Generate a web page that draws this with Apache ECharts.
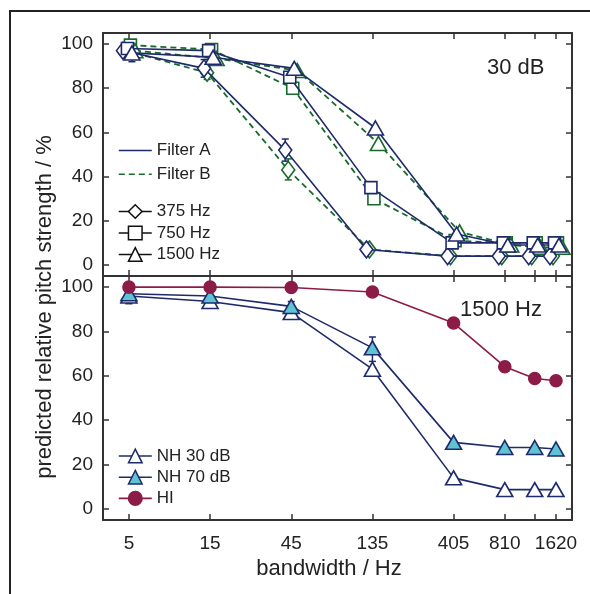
<!DOCTYPE html>
<html>
<head>
<meta charset="utf-8">
<script src="https://cdn.jsdelivr.net/npm/echarts@6/dist/echarts.min.js"></script>
<style>
html, body { margin: 0; padding: 0; background: #fff; }
#chart { width: 590px; height: 594px; }
</style>
</head>
<body>
<div id="chart"></div>
<script>
// bandwidths (Hz) shared by every curve
const bandwidths = [5, 15, 45, 135, 405, 810, 1215, 1620]
const tickHz = [5, 15, 45, 135, 405, 810, 1215, 1620]
const labelHz = [5, 15, 45, 135, 405, 810, 1620]
const yTicks = [0, 20, 40, 60, 80, 100]

// upper panel, 30 dB
const f375A = [97, 89, 52, 7, 4, 4, 4, 4]
const f375B = [97, 87, 43, 7, 4, 4, 4, 4]
const f750A = [98, 97, 85, 35, 10, 10, 10, 10]
const f750B = [99.5, 97.5, 80, 30, 11, 10, 10, 10]
const f1500A = [96, 94, 89, 62, 14, 9, 9, 9]
const f1500B = [97, 93.5, 88, 55, 15, 9, 8, 8]

// lower panel, 1500 Hz
const nh30 = [96, 93.5, 88.5, 63, 14, 8.7, 8.7, 8.7]
const nh70 = [97, 96, 91.3, 72.6, 30, 27.7, 27.7, 27]
const hi = [100, 100, 99.8, 97.8, 83.8, 64.1, 58.8, 57.8]

// error bars [bandwidth, low, high]
const err375A = [[15, 85, 93], [45, 47, 57]]
const err375B = [[15, 84, 90], [45, 38.5, 48]]
const err1500A = [[5, 92, 99], [15, 91, 97]]
const errNh30 = [[5, 92.5, 99.5], [15, 90.5, 96.5], [45, 86.5, 90.5]]
const errNh70 = [[45, 89, 93.5], [135, 66.5, 77.5]]

const NAVY = '#1f2a6b'
const GREEN = '#176a2c'
const CYAN = '#5ec4d4'
const MAROON = '#8c1b48'
const AXIS = '#333'
const FONT = '"Liberation Sans", Arial, Helvetica, sans-serif'

const lg = v => Math.log10(v)
const PX = 1 / 170 // log10 units per pixel on the x axis
// small horizontal dodge used in the upper panel (pixels)
const dodge = { d375: -6, d750: -1.5, d1500: 3, filterB: 3 }

function pts (vals, shift) {
    return bandwidths.map((b, i) => [lg(b) + shift * PX, vals[i]])
}

function curve (name, vals, panel, o) {
    return {
        name: name,
        type: 'line',
        xAxisIndex: panel * 2,
        yAxisIndex: panel * 2,
        data: pts(vals, o.shift || 0),
        symbol: o.symbol,
        symbolSize: o.size,
        showSymbol: true,
        animation: false,
        z: o.z || 3,
        lineStyle: { color: o.color, width: o.width || 1.6, type: o.dash || 'solid' },
        itemStyle: { color: o.fill || '#fff', borderColor: o.border || o.color, borderWidth: 1.6, opacity: 1 }
    }
}

function errBars (data, color, panel, shift) {
    return {
        type: 'custom',
        xAxisIndex: panel * 2,
        yAxisIndex: panel * 2,
        silent: true,
        animation: false,
        z: 2,
        data: data.map(d => [lg(d[0]) + shift * PX, d[1], d[2]]),
        renderItem: (params, api) => {
            const lo = api.coord([api.value(0), api.value(1)])
            const up = api.coord([api.value(0), api.value(2)])
            const w = 3.5
            const st = { stroke: color, lineWidth: 1.5 }
            return {
                type: 'group',
                children: [
                    { type: 'line', shape: { x1: lo[0], y1: lo[1], x2: up[0], y2: up[1] }, style: st },
                    { type: 'line', shape: { x1: lo[0] - w, y1: lo[1], x2: lo[0] + w, y2: lo[1] }, style: st },
                    { type: 'line', shape: { x1: up[0] - w, y1: up[1], x2: up[0] + w, y2: up[1] }, style: st }
                ]
            }
        }
    }
}

// legend-only series (no data)
function dummy (name, o) {
    return {
        name: name,
        type: 'line',
        data: [],
        symbol: o.symbol,
        lineStyle: { color: o.color, width: 1.6, type: o.dash || 'solid' },
        itemStyle: o.itemStyle
    }
}

const axisLineStyle = { color: AXIS, width: 2 }
const tickStyle = { color: AXIS, width: 1.5 }

function xAx (grid, pos, showLabel) {
    return {
        type: 'value',
        gridIndex: grid,
        position: pos,
        min: lg(3.52),
        max: lg(2012),
        axisLine: { show: true, onZero: false, lineStyle: axisLineStyle },
        axisTick: { show: true, inside: true, length: 6, customValues: tickHz.map(lg), lineStyle: tickStyle },
        axisLabel: {
            show: showLabel,
            customValues: labelHz.map(lg),
            formatter: v => String(Math.round(Math.pow(10, v))),
            fontFamily: FONT,
            fontSize: 19,
            color: '#222',
            margin: 14
        },
        splitLine: { show: false }
    }
}

function yAx (grid, pos, showLabel) {
    return {
        type: 'value',
        gridIndex: grid,
        position: pos,
        min: -5,
        max: 105,
        axisLine: { show: true, onZero: false, lineStyle: axisLineStyle },
        axisTick: { show: true, inside: true, length: 6, customValues: yTicks, lineStyle: tickStyle },
        axisLabel: {
            show: showLabel,
            customValues: yTicks,
            fontFamily: FONT,
            fontSize: 19,
            color: '#222',
            margin: 10
        },
        splitLine: { show: false }
    }
}

const legendText = { fontFamily: FONT, fontSize: 17, color: '#222' }

const option = {
    backgroundColor: '#fff',
    animation: false,
    grid: [
        { left: 103, top: 33, width: 469, height: 243 },
        { left: 103, top: 276, width: 469, height: 244 }
    ],
    xAxis: [xAx(0, 'bottom', false), xAx(0, 'top', false), xAx(1, 'bottom', true), xAx(1, 'top', false)],
    yAxis: [yAx(0, 'left', true), yAx(0, 'right', false), yAx(1, 'left', true), yAx(1, 'right', false)],
    legend: [
        {
            data: ['Filter A', 'Filter B'],
            orient: 'vertical',
            left: 118,
            top: 142,
            padding: 0,
            itemWidth: 33,
            itemHeight: 14,
            itemGap: 6.7,
            selectedMode: false,
            textStyle: Object.assign({ lineHeight: 14 }, legendText),
            itemStyle: { color: 'transparent', borderColor: 'transparent', borderWidth: 0 },
            lineStyle: { width: 1.6 }
        },
        {
            data: ['375 Hz', '750 Hz', '1500 Hz'],
            orient: 'vertical',
            left: 118,
            top: 203,
            padding: 0,
            itemWidth: 33,
            itemHeight: 17,
            itemGap: 4.5,
            selectedMode: false,
            textStyle: Object.assign({ lineHeight: 17 }, legendText),
            itemStyle: { borderWidth: 1.5 },
            lineStyle: { width: 1.5 }
        },
        {
            data: ['NH 30 dB', 'NH 70 dB', 'HI'],
            orient: 'vertical',
            left: 118,
            top: 447.5,
            padding: 0,
            itemWidth: 33,
            itemHeight: 17,
            itemGap: 4.2,
            selectedMode: false,
            textStyle: Object.assign({ lineHeight: 17 }, legendText),
            itemStyle: { borderWidth: 1.5 },
            lineStyle: { width: 1.6 }
        }
    ],
    graphic: [
        { type: 'rect', silent: true, shape: { x: 10, y: 11, width: 620, height: 620 }, style: { fill: 'none', stroke: '#222', lineWidth: 2 } },
        {
            type: 'text', silent: true, x: 45, y: 307, rotation: Math.PI / 2,
            style: { text: 'predicted relative pitch strength / %', font: '22px ' + FONT, fill: '#222', align: 'center', verticalAlign: 'middle', textAlign: 'center', textVerticalAlign: 'middle' }
        },
        {
            type: 'text', silent: true, x: 329, y: 569,
            style: { text: 'bandwidth / Hz', font: '22px ' + FONT, fill: '#222', align: 'center', verticalAlign: 'middle', textAlign: 'center', textVerticalAlign: 'middle' }
        },
        {
            type: 'text', silent: true, x: 487, y: 68,
            style: { text: '30 dB', font: '22px ' + FONT, fill: '#222', align: 'left', verticalAlign: 'middle', textAlign: 'left', textVerticalAlign: 'middle' }
        },
        {
            type: 'text', silent: true, x: 460, y: 310,
            style: { text: '1500 Hz', font: '22px ' + FONT, fill: '#222', align: 'left', verticalAlign: 'middle', textAlign: 'left', textVerticalAlign: 'middle' }
        }
    ],
    series: [
        // upper panel: filter B (green dashed) under filter A (navy)
        errBars(err375B, GREEN, 0, dodge.d375 + dodge.filterB),
        curve('375 Hz B', f375B, 0, { symbol: 'diamond', size: [13, 17], color: GREEN, dash: [6, 4], width: 1.8, shift: dodge.d375 + dodge.filterB }),
        curve('750 Hz B', f750B, 0, { symbol: 'rect', size: 12, color: GREEN, dash: [6, 4], width: 1.8, shift: dodge.d750 + dodge.filterB }),
        curve('1500 Hz B', f1500B, 0, { symbol: 'triangle', size: [16, 14], color: GREEN, dash: [6, 4], width: 1.8, shift: dodge.d1500 + dodge.filterB }),
        errBars(err375A, NAVY, 0, dodge.d375),
        errBars(err1500A, NAVY, 0, dodge.d1500),
        curve('375 Hz A', f375A, 0, { symbol: 'diamond', size: [13, 17], color: NAVY, shift: dodge.d375, z: 4 }),
        curve('750 Hz A', f750A, 0, { symbol: 'rect', size: 12, color: NAVY, shift: dodge.d750, z: 4 }),
        curve('1500 Hz A', f1500A, 0, { symbol: 'triangle', size: [16, 14], color: NAVY, shift: dodge.d1500, z: 4 }),

        // lower panel
        errBars(errNh30, NAVY, 1, 0),
        errBars(errNh70, NAVY, 1, 0),
        curve('NH 30 dB', nh30, 1, { symbol: 'triangle', size: [16, 14], color: NAVY }),
        curve('NH 70 dB', nh70, 1, { symbol: 'triangle', size: [16, 14], color: NAVY, fill: CYAN }),
        curve('HI', hi, 1, { symbol: 'circle', size: 12, color: MAROON, fill: MAROON, border: MAROON }),

        // legend entries only
        dummy('Filter A', { symbol: 'none', color: NAVY, itemStyle: { color: 'transparent' } }),
        dummy('Filter B', { symbol: 'none', color: GREEN, dash: [6, 4], itemStyle: { color: 'transparent' } }),
        dummy('375 Hz', { symbol: 'diamond', color: '#111', itemStyle: { color: '#fff', borderColor: '#111', borderWidth: 1.5 } }),
        dummy('750 Hz', { symbol: 'rect', color: '#111', itemStyle: { color: '#fff', borderColor: '#111', borderWidth: 1.5 } }),
        dummy('1500 Hz', { symbol: 'triangle', color: '#111', itemStyle: { color: '#fff', borderColor: '#111', borderWidth: 1.5 } })
    ]
}

const chart = echarts.init(document.getElementById('chart'))
chart.setOption(option)
</script>
</body>
</html>
